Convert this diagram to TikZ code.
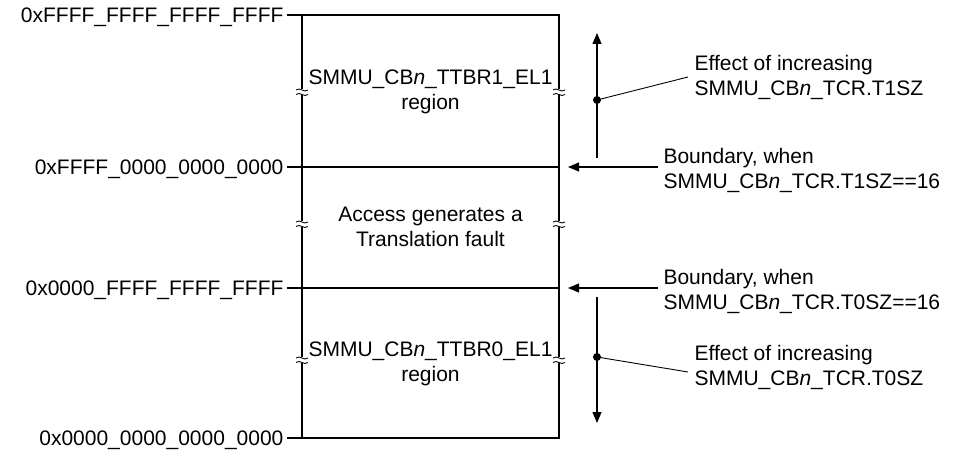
\documentclass[tikz,border=0pt]{standalone}
\usepackage{fontspec}
\setmainfont{Liberation Sans}
\usetikzlibrary{arrows.meta}
\begin{document}
\begin{tikzpicture}[x=1pt,y=-1pt,line width=1.1pt,
  every node/.style={font=\fontsize{21}{25}\selectfont},
  addr/.style={anchor=east,inner sep=3pt,text depth=0pt},
  inbox/.style={align=center,inner sep=0pt},
  note/.style={align=left,anchor=west,inner sep=0pt},
  arr/.style={-{Triangle[length=11pt,width=9pt]}},
  brkmark/.pic={
    \fill[white] (-7,-3) rectangle (7,3);
    \draw[line width=0.9pt] (-6,-2) .. controls (-2,-5.5) and (2,1.5) .. (6,-2);
    \draw[line width=0.9pt] (-6,2.5) .. controls (-2,-1) and (2,6) .. (6,2.5);
  }]
\useasboundingbox (0,0) rectangle (958,452);
% box corners and boundary points
\coordinate (tl) at (302,15);
\coordinate (tr) at (559,15);
\coordinate (ul) at (302,167);
\coordinate (ur) at (559,167);
\coordinate (ll) at (302,288);
\coordinate (lr) at (559,288);
\coordinate (bl) at (302,438);
\coordinate (br) at (559,438);
% address labels
\node[addr] (a1) at (287,15) {0xFFFF\_FFFF\_FFFF\_FFFF};
\node[addr] (a2) at (287,167) {0xFFFF\_0000\_0000\_0000};
\node[addr] (a3) at (287,288) {0x0000\_FFFF\_FFFF\_FFFF};
\node[addr] (a4) at (287,438) {0x0000\_0000\_0000\_0000};
\draw (a1.east) -- (tl) -- (tr) -- (br) -- (bl) -- (tl);
\draw (a2.east) -- (ul) -- (ur);
\draw (a3.east) -- (ll) -- (lr);
\draw (a4.east) -- (bl);
% break marks
\pic at (302,92) {brkmark};
\pic at (559,92) {brkmark};
\pic at (302,224) {brkmark};
\pic at (559,224) {brkmark};
\pic at (302,360) {brkmark};
\pic at (559,360) {brkmark};
% region texts
\node[inbox] (r1) at (430.5,92) {SMMU\_CB\textit{n}\_TTBR1\_EL1\\region};
\node[inbox] (r2) at (430.5,227) {Access generates a\\Translation fault};
\node[inbox] (r3) at (430.5,364) {SMMU\_CB\textit{n}\_TTBR0\_EL1\\region};
% right side
\coordinate (up0) at (597,158);
\coordinate (up1) at (597,33);
\coordinate (updot) at (597,100);
\coordinate (dn0) at (597,297);
\coordinate (dn1) at (597,423);
\coordinate (dndot) at (597,357);
\draw[arr] (up0) -- (up1);
\draw[arr] (dn0) -- (dn1);
\fill (updot) circle (4);
\fill (dndot) circle (4);
\node[note] (e1) at (694,77) {Effect of increasing\\SMMU\_CB\textit{n}\_TCR.T1SZ};
\node[note] (e2) at (694,367) {Effect of increasing\\SMMU\_CB\textit{n}\_TCR.T0SZ};
\draw[line width=0.9pt] (updot) -- (688,77);
\draw[line width=0.9pt] (dndot) -- (688,372);
\node[note] (b1) at (663,170) {Boundary, when\\SMMU\_CB\textit{n}\_TCR.T1SZ==16};
\node[note] (b2) at (663,291) {Boundary, when\\SMMU\_CB\textit{n}\_TCR.T0SZ==16};
\coordinate (bs1) at (658,167);
\coordinate (bs2) at (658,288);
\draw[arr] (bs1) -- ([xshift=9pt]ur);
\draw[arr] (bs2) -- ([xshift=9pt]lr);
\end{tikzpicture}
\end{document}
